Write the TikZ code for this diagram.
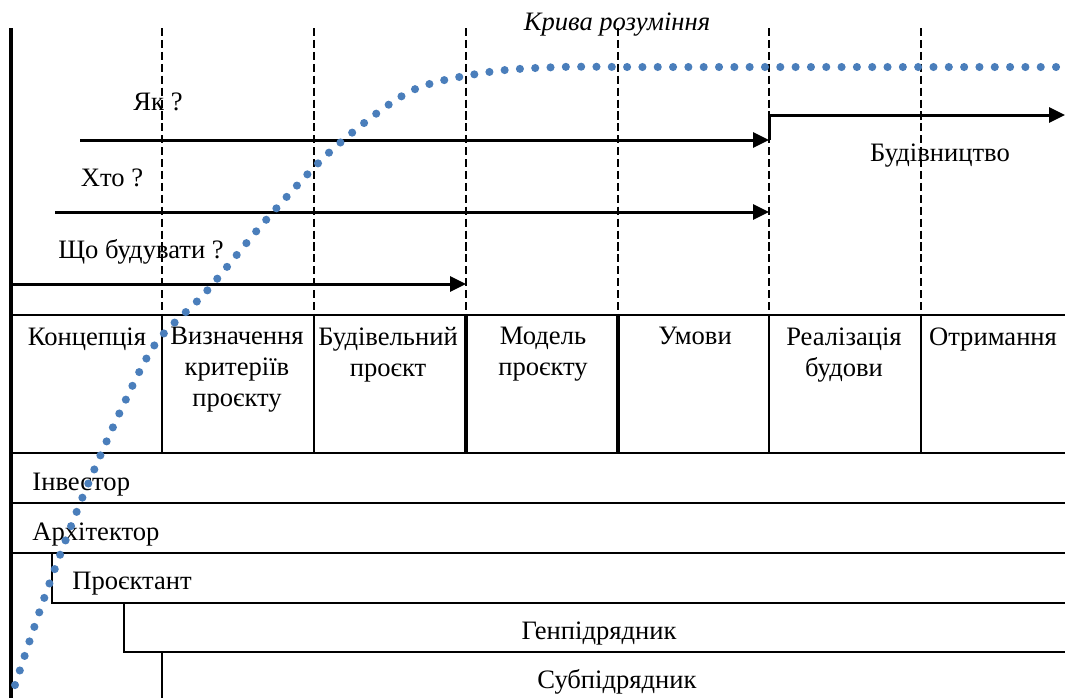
\documentclass[tikz,border=0pt]{standalone}
\usepackage{fontspec}
\setmainfont{Liberation Serif}
\usepackage{tikz}
\usetikzlibrary{arrows.meta}

\definecolor{curveblue}{RGB}{74,126,187}

\begin{document}
\begin{tikzpicture}[x=0.47pt, y=-0.47pt,
        every node/.style={font=\fontsize{12.5}{14.6}\selectfont, inner sep=0pt},
        phaseline/.style={line width=0.5pt, dash pattern=on 3.8pt off 1.8pt},
        gridline/.style={line width=1pt},
        arr/.style={line width=1.4pt, -{Triangle[length=7.5pt,width=7pt]}},
        phase/.style={anchor=north, align=center},
        role/.style={anchor=base west},
        curve/.style={color=curveblue, line width=3.8pt, line cap=round, dash pattern=on 0pt off 7.2pt}]
                    \useasboundingbox (0,0) rectangle (1065,698);

                    \foreach \xx in {162,314,466,618,769,921}
                        \draw[phaseline] (\xx,28) -- (\xx,315);

                    \draw[line width=1.6pt] (11,28) -- (11,698);

                    \node[anchor=base, font=\fontsize{12.5}{14.6}\selectfont\itshape] (title) at (617,30) {Крива розуміння};

                    \node[anchor=base] (yak) at (158,110) {Як ?};
                    \node[anchor=base] (hto) at (112,186) {Хто ?};
                    \node[anchor=base] (shcho) at (141,258) {Що будувати ?};
                    \node[anchor=base] (budivnytstvo) at (940,161) {Будівництво};

                    \coordinate (yak-a) at (80,140);
                    \coordinate (yak-b) at (769,140);
                    \coordinate (hto-a) at (55,212);
                    \coordinate (hto-b) at (769,212);
                    \coordinate (shcho-a) at (11,284);
                    \coordinate (shcho-b) at (466,284);
                    \coordinate (bud-b) at (1065,115);

                    \draw[arr] (yak-a) -- (yak-b);
                    \draw[arr] (hto-a) -- (hto-b);
                    \draw[arr] (shcho-a) -- (shcho-b);
                    \draw[arr] (yak-b) |- (bud-b);

                    \draw[gridline] (11,315) -- (1065,315);
                    \draw[gridline] (11,453) -- (1065,453);
                    \foreach \xx in {162,314,769,921}
                        \draw[gridline] (\xx,315) -- (\xx,453);
                    \foreach \xx in {466,618}
                        \draw[line width=1.6pt] (\xx,315) -- (\xx,453);

                    \node[phase] (koncepciya) at (87,327) {Концепція};
                    \node[phase] (vyznachennya) at (237,327) {Визначення\\критеріїв\\проєкту};
                    \node[phase] (proekt) at (388,327) {Будівельний\\проєкт};
                    \node[phase] (model) at (543,327) {Модель\\проєкту};
                    \node[phase] (umovy) at (695,327) {Умови};
                    \node[phase] (realizaciya) at (844,327) {Реалізація\\будови};
                    \node[phase] (otrymannya) at (993,327) {Отримання};

                    \draw[gridline] (11,503) -- (1065,503);
                    \draw[gridline] (11,553) -- (1065,553);
                    \draw[gridline] (52,553) -- (52,603) -- (1065,603);
                    \draw[gridline] (124,603) -- (124,652) -- (1065,652);
                    \draw[gridline] (162,652) -- (162,698);

                    \node[role] (investor) at (32,490) {Інвестор};
                    \node[role] (arkhitektor) at (32,540) {Архітектор};
                    \node[role] (proektant) at (72,589) {Проєктант};
                    \node[anchor=base] (genpidryadnyk) at (599,639) {Генпідрядник};
                    \node[anchor=base] (subpidryadnyk) at (617,688) {Субпідрядник};

                    \draw[curve] plot[smooth] coordinates {(15,685) (46,593) (81,501) (120,412) (156,343)
                        (205,293) (266,220) (333,149) (411,91) (489,72) (560,67) (620,67)} -- (1065,67);
                \end{tikzpicture}
\end{document}
